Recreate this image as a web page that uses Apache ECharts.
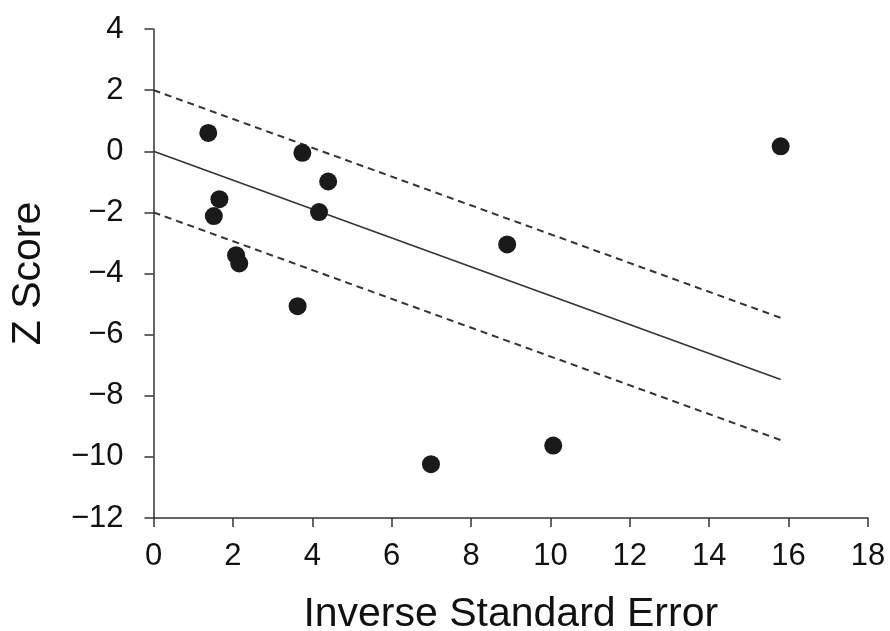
<!DOCTYPE html>
<html><head><meta charset="utf-8">
<script src="https://cdn.jsdelivr.net/npm/echarts@6/dist/echarts.min.js"></script>
<style>html,body{margin:0;padding:0;background:#fff}#c{width:890px;height:631px}</style>
</head><body><div id="c"></div>
<script>
var inverseSE = [1.38, 3.75, 4.40, 1.66, 1.52, 4.17, 2.08, 2.16, 3.63, 8.91, 15.8, 6.99, 10.07];
var zScore    = [0.60, -0.05, -0.99, -1.57, -2.12, -1.99, -3.40, -3.67, -5.07, -3.05, 0.16, -10.24, -9.63];
var lineX     = [0, 15.8];
var fitY      = [0, -7.47];
var upperY    = [2, -5.45];
var lowerY    = [-2, -9.45];

var titleFont = 'Liberation Sans, Arial, sans-serif';
var tickFont = 'Liberation Sans, Arial, sans-serif';
function pairs(xs, ys){ return xs.map(function(x,i){return [x, ys[i]];}); }
function fmt(v){ return String(v).replace('-', '\u2212'); }

var chart = echarts.init(document.getElementById('c'), null, {renderer:'canvas'});
chart.setOption({
  animation:false,
  grid:{left:153.5, right:22, top:29, bottom:113, containLabel:false, outerBoundsMode:'none'},
  xAxis:{type:'value', min:0, max:18, interval:2,
    name:'Inverse Standard Error', nameLocation:'middle', nameGap:76,
    nameTextStyle:{fontFamily:titleFont, fontSize:41, color:'#111'},
    axisLine:{onZero:false, lineStyle:{color:'#333', width:1.5}},
    axisTick:{length:9, lineStyle:{color:'#333', width:1.5}},
    axisLabel:{fontFamily:tickFont, fontSize:31, color:'#111', margin:23, formatter:fmt},
    splitLine:{show:false}},
  yAxis:{type:'value', min:-12, max:4, interval:2,
    name:'Z Score', nameLocation:'middle', nameGap:104,
    nameTextStyle:{fontFamily:titleFont, fontSize:41, color:'#111'},
    axisLine:{show:true, onZero:false, lineStyle:{color:'#333', width:1.5}},
    axisTick:{show:true, length:9, lineStyle:{color:'#333', width:1.5}},
    axisLabel:{fontFamily:tickFont, fontSize:31, color:'#111', margin:30, formatter:fmt},
    splitLine:{show:false}},
  series:[
    {type:'line', data:pairs(lineX, fitY), symbol:'none', lineStyle:{color:'#333', width:1.5}},
    {type:'line', data:pairs(lineX, upperY), symbol:'none', lineStyle:{color:'#333', width:2, type:[7,5]}},
    {type:'line', data:pairs(lineX, lowerY), symbol:'none', lineStyle:{color:'#333', width:2, type:[7,5]}},
    {type:'scatter', data:pairs(inverseSE, zScore), symbolSize:18, itemStyle:{color:'#1a1a1a', opacity:1}, z:5}
  ]
});
</script></body></html>
